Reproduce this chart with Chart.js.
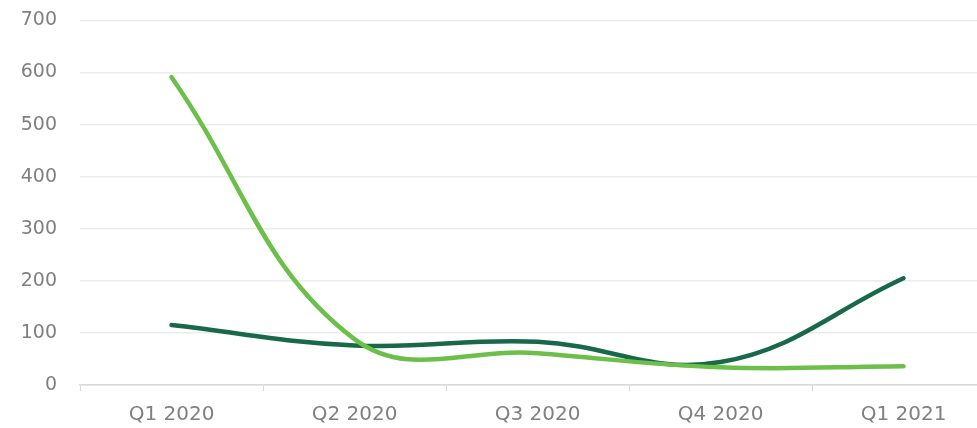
<!DOCTYPE html>
<html><head><meta charset="utf-8">
<script src="https://cdn.jsdelivr.net/npm/chart.js@4.4.0/dist/chart.umd.min.js"></script>
<style>
html,body{margin:0;padding:0;background:#fff;overflow:hidden;width:977px;height:428px;}
#wrap{position:relative;top:-14px;width:1000px;height:442px;}
</style></head><body>
<div id="wrap"><canvas id="c" width="1000" height="442"></canvas></div>
<script>
const categories = ["Q1 2020","Q2 2020","Q3 2020","Q4 2020","Q1 2021"];
const darkSeries = [115, 76, 83, 44, 205];
const lightSeries = [591, 88, 61, 34, 36];
const yTicks = [0,100,200,300,400,500,600,700];

new Chart(document.getElementById('c'), {
  type: 'line',
  data: {
    labels: categories,
    datasets: [
      {data: lightSeries, borderColor: '#6cc04a', borderWidth: 4.5, pointRadius: 0, tension: 0.4, fill: false, borderCapStyle: 'round'},
      {data: darkSeries, borderColor: '#17694a', borderWidth: 4.5, pointRadius: 0, tension: 0.4, fill: false, borderCapStyle: 'round'}
    ]
  },
  options: {
    responsive: false, animation: false,
    layout: {padding: {top: 0, right: 5, left: 0, bottom: 0}},
    plugins: {legend: {display: false}, tooltip: {enabled: false}},
    scales: {
      x: {
        offset: true,
        grid: {drawOnChartArea: false, drawTicks: true, tickLength: 6, color: '#d9d9d9', offset: true},
        border: {display: true, color: '#d9d9d9', width: 1.5},
        ticks: {color: '#808080', font: {family: 'DejaVu Sans', size: 20}, padding: 12, maxRotation: 0},
        afterFit: s => { s.height = 43; }
      },
      y: {
        min: 0, max: 700,
        afterBuildTicks: s => { s.ticks = yTicks.map(v => ({value: v})); },
        grid: {drawTicks: false, color: '#ececec', lineWidth: 1.5},
        border: {display: false},
        ticks: {color: '#808080', font: {family: 'DejaVu Sans', size: 19}, padding: 23},
        afterFit: s => { s.width = 80; }
      }
    }
  }
});
</script>
</body></html>
